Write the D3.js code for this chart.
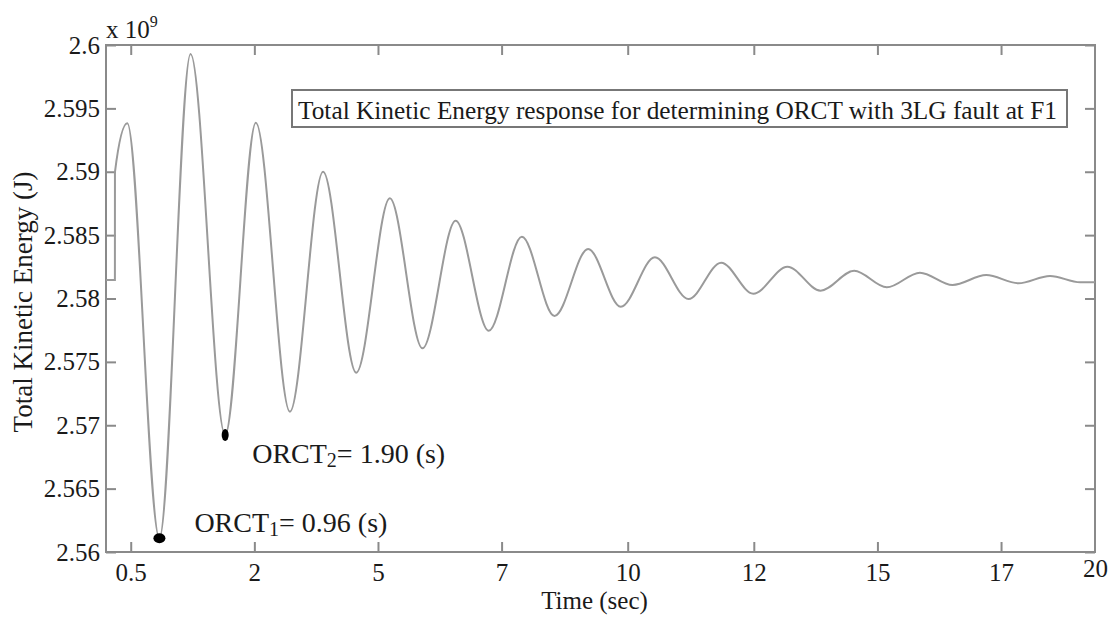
<!DOCTYPE html>
<html>
<head>
<meta charset="utf-8">
<script src="https://cdn.jsdelivr.net/npm/d3@7"></script>
<style>
  body { margin: 0; background: #fff; }
  svg text { font-family: "Liberation Serif", "Times New Roman", serif; fill: #1a1a1a; }
</style>
</head>
<body>
<div id="chart"></div>
<script>
// time axis (s) and total kinetic energy (x 10^9 J) at each turning point
var timeSec = [0, 0.18, 0.181, 0.43, 1.08, 1.71, 2.41, 3.03, 3.72, 4.39, 5.06, 5.74, 6.40, 7.07, 7.74, 8.41,
  9.07, 9.75, 10.41, 11.10, 11.78, 12.44, 13.09, 13.78, 14.45, 15.13, 15.79, 16.46, 17.12, 17.80, 18.45, 19.09, 19.70, 20];
var kineticEnergy = [2.58146, 2.58146, 2.58998, 2.59382, 2.56108, 2.59929, 2.56923, 2.59387, 2.57107, 2.59000,
  2.57415, 2.58791, 2.57607, 2.58614, 2.57746, 2.58488, 2.57862, 2.58391, 2.57935, 2.58325, 2.57996, 2.58283,
  2.58038, 2.58251, 2.58062, 2.58219, 2.58088, 2.58204, 2.58107, 2.58185, 2.58120, 2.58178, 2.58128, 2.58128];

// ORCT markers
var orctTime = [1.08, 2.41];
var orctEnergy = [2.56108, 2.56923];
var orctSub = ["1", "2"];
var orctValue = ["0.96", "1.90"];

// tick labels (as printed on the figure)
var xTickValues = [0.5, 3.0, 5.5, 8.0, 10.55, 13.1, 15.6, 18.1, 20];
var xTickLabels = ["0.5", "2", "5", "7", "10", "12", "15", "17", "20"];
var yTickValues = [2.56, 2.565, 2.57, 2.575, 2.58, 2.585, 2.59, 2.595, 2.6];
var yTickLabels = ["2.56", "2.565", "2.57", "2.575", "2.58", "2.585", "2.59", "2.595", "2.6"];

var titleText = "Total Kinetic Energy response for determining ORCT with 3LG fault at F1";

var margin = { top: 45, right: 24, bottom: 66, left: 106 };
var w = 1119, h = 618;
var width = w - margin.left - margin.right;
var height = h - margin.top - margin.bottom;

var svg = d3.select("#chart")
  .append("svg")
    .attr("width", w)
    .attr("height", h);

var chart = svg.append("g")
  .attr("transform", "translate(" + margin.left + "," + margin.top + ")");

var xScale = d3.scaleLinear().domain([0, 20]).range([0, width]);
var yScale = d3.scaleLinear().domain([2.56, 2.6]).range([height, 0]);

var frameColor = "#8a8a8a";

// axes, ticks pointing inward like matlab
var xAxis = d3.axisBottom(xScale).tickValues(xTickValues)
  .tickFormat(function(d, i) { return xTickLabels[i]; })
  .tickSizeInner(-10).tickSizeOuter(0).tickPadding(11);
var yAxis = d3.axisLeft(yScale).tickValues(yTickValues)
  .tickFormat(function(d, i) { return yTickLabels[i]; })
  .tickSizeInner(-10).tickSizeOuter(0).tickPadding(6);
var xTop = d3.axisTop(xScale).tickValues(xTickValues.slice(0, -1)).tickFormat("").tickSizeInner(-10).tickSizeOuter(0);
var yRight = d3.axisRight(yScale).tickValues(yTickValues).tickFormat("").tickSizeInner(-10).tickSizeOuter(0);

var gx = chart.append("g").attr("transform", "translate(0," + height + ")").call(xAxis);
var gy = chart.append("g").call(yAxis);
var gt = chart.append("g").call(xTop);
var gr = chart.append("g").attr("transform", "translate(" + width + ",0)").call(yRight);

[gx, gy, gt, gr].forEach(function(g) {
  g.select(".domain").remove();
  g.selectAll(".tick line").attr("stroke", frameColor).attr("stroke-width", 2);
  g.selectAll(".tick text").attr("font-size", 25).attr("font-family", "Liberation Serif").attr("fill", "#1a1a1a");
});
gx.selectAll(".tick").filter(function(d) { return d === 20; }).select("line").remove();
gx.selectAll(".tick text").filter(function(d) { return d === 20; }).attr("dy", "0.55em");

// frame
chart.append("rect")
  .attr("width", width)
  .attr("height", height)
  .attr("fill", "none")
  .attr("stroke", frameColor)
  .attr("stroke-width", 2);

// energy curve
var line = d3.line()
  .x(function(d) { return xScale(d[0]); })
  .y(function(d) { return yScale(d[1]); })
  .curve(d3.curveMonotoneX);

chart.append("path")
  .datum(d3.zip(timeSec, kineticEnergy))
  .attr("d", line)
  .attr("fill", "none")
  .attr("stroke", "#9a9a9a")
  .attr("stroke-width", 2);

// ORCT points and labels
var dotSize = [[6, 5], [3.5, 6]];
var labelOffset = [[35, -6], [27, 28]];

orctTime.forEach(function(t, i) {
  var cx = xScale(t), cy = yScale(orctEnergy[i]);
  chart.append("ellipse")
    .attr("cx", cx).attr("cy", cy)
    .attr("rx", dotSize[i][0]).attr("ry", dotSize[i][1])
    .attr("fill", "#000");
  var txt = chart.append("text")
    .attr("x", cx + labelOffset[i][0])
    .attr("y", cy + labelOffset[i][1])
    .attr("font-size", 28);
  txt.append("tspan").text("ORCT");
  txt.append("tspan").attr("font-size", 20).attr("dy", 4).text(orctSub[i]);
  txt.append("tspan").attr("dy", -4).text("= " + orctValue[i] + " (s)");
});

// boxed title inside the plot
chart.append("rect")
  .attr("x", 186).attr("y", 45)
  .attr("width", 775).attr("height", 37)
  .attr("fill", "#fff")
  .attr("stroke", "#777")
  .attr("stroke-width", 2);
chart.append("text")
  .attr("x", 192)
  .attr("y", 74)
  .attr("font-size", 25)
  .attr("textLength", 759)
  .attr("lengthAdjust", "spacingAndGlyphs")
  .text(titleText);

// exponent label
var expo = svg.append("text")
  .attr("x", margin.left)
  .attr("y", 38)
  .attr("font-size", 25);
expo.append("tspan").text("x 10");
expo.append("tspan").attr("font-size", 16).attr("dy", -11).text("9");

// axis titles
svg.append("text")
  .attr("x", margin.left + width / 2 - 6)
  .attr("y", 609)
  .attr("text-anchor", "middle")
  .attr("font-size", 25)
  .text("Time (sec)");

svg.append("text")
  .attr("transform", "translate(32," + 302 + ") rotate(-90)")
  .attr("text-anchor", "middle")
  .attr("font-size", 27)
  .text("Total Kinetic Energy (J)");
</script>
</body>
</html>
